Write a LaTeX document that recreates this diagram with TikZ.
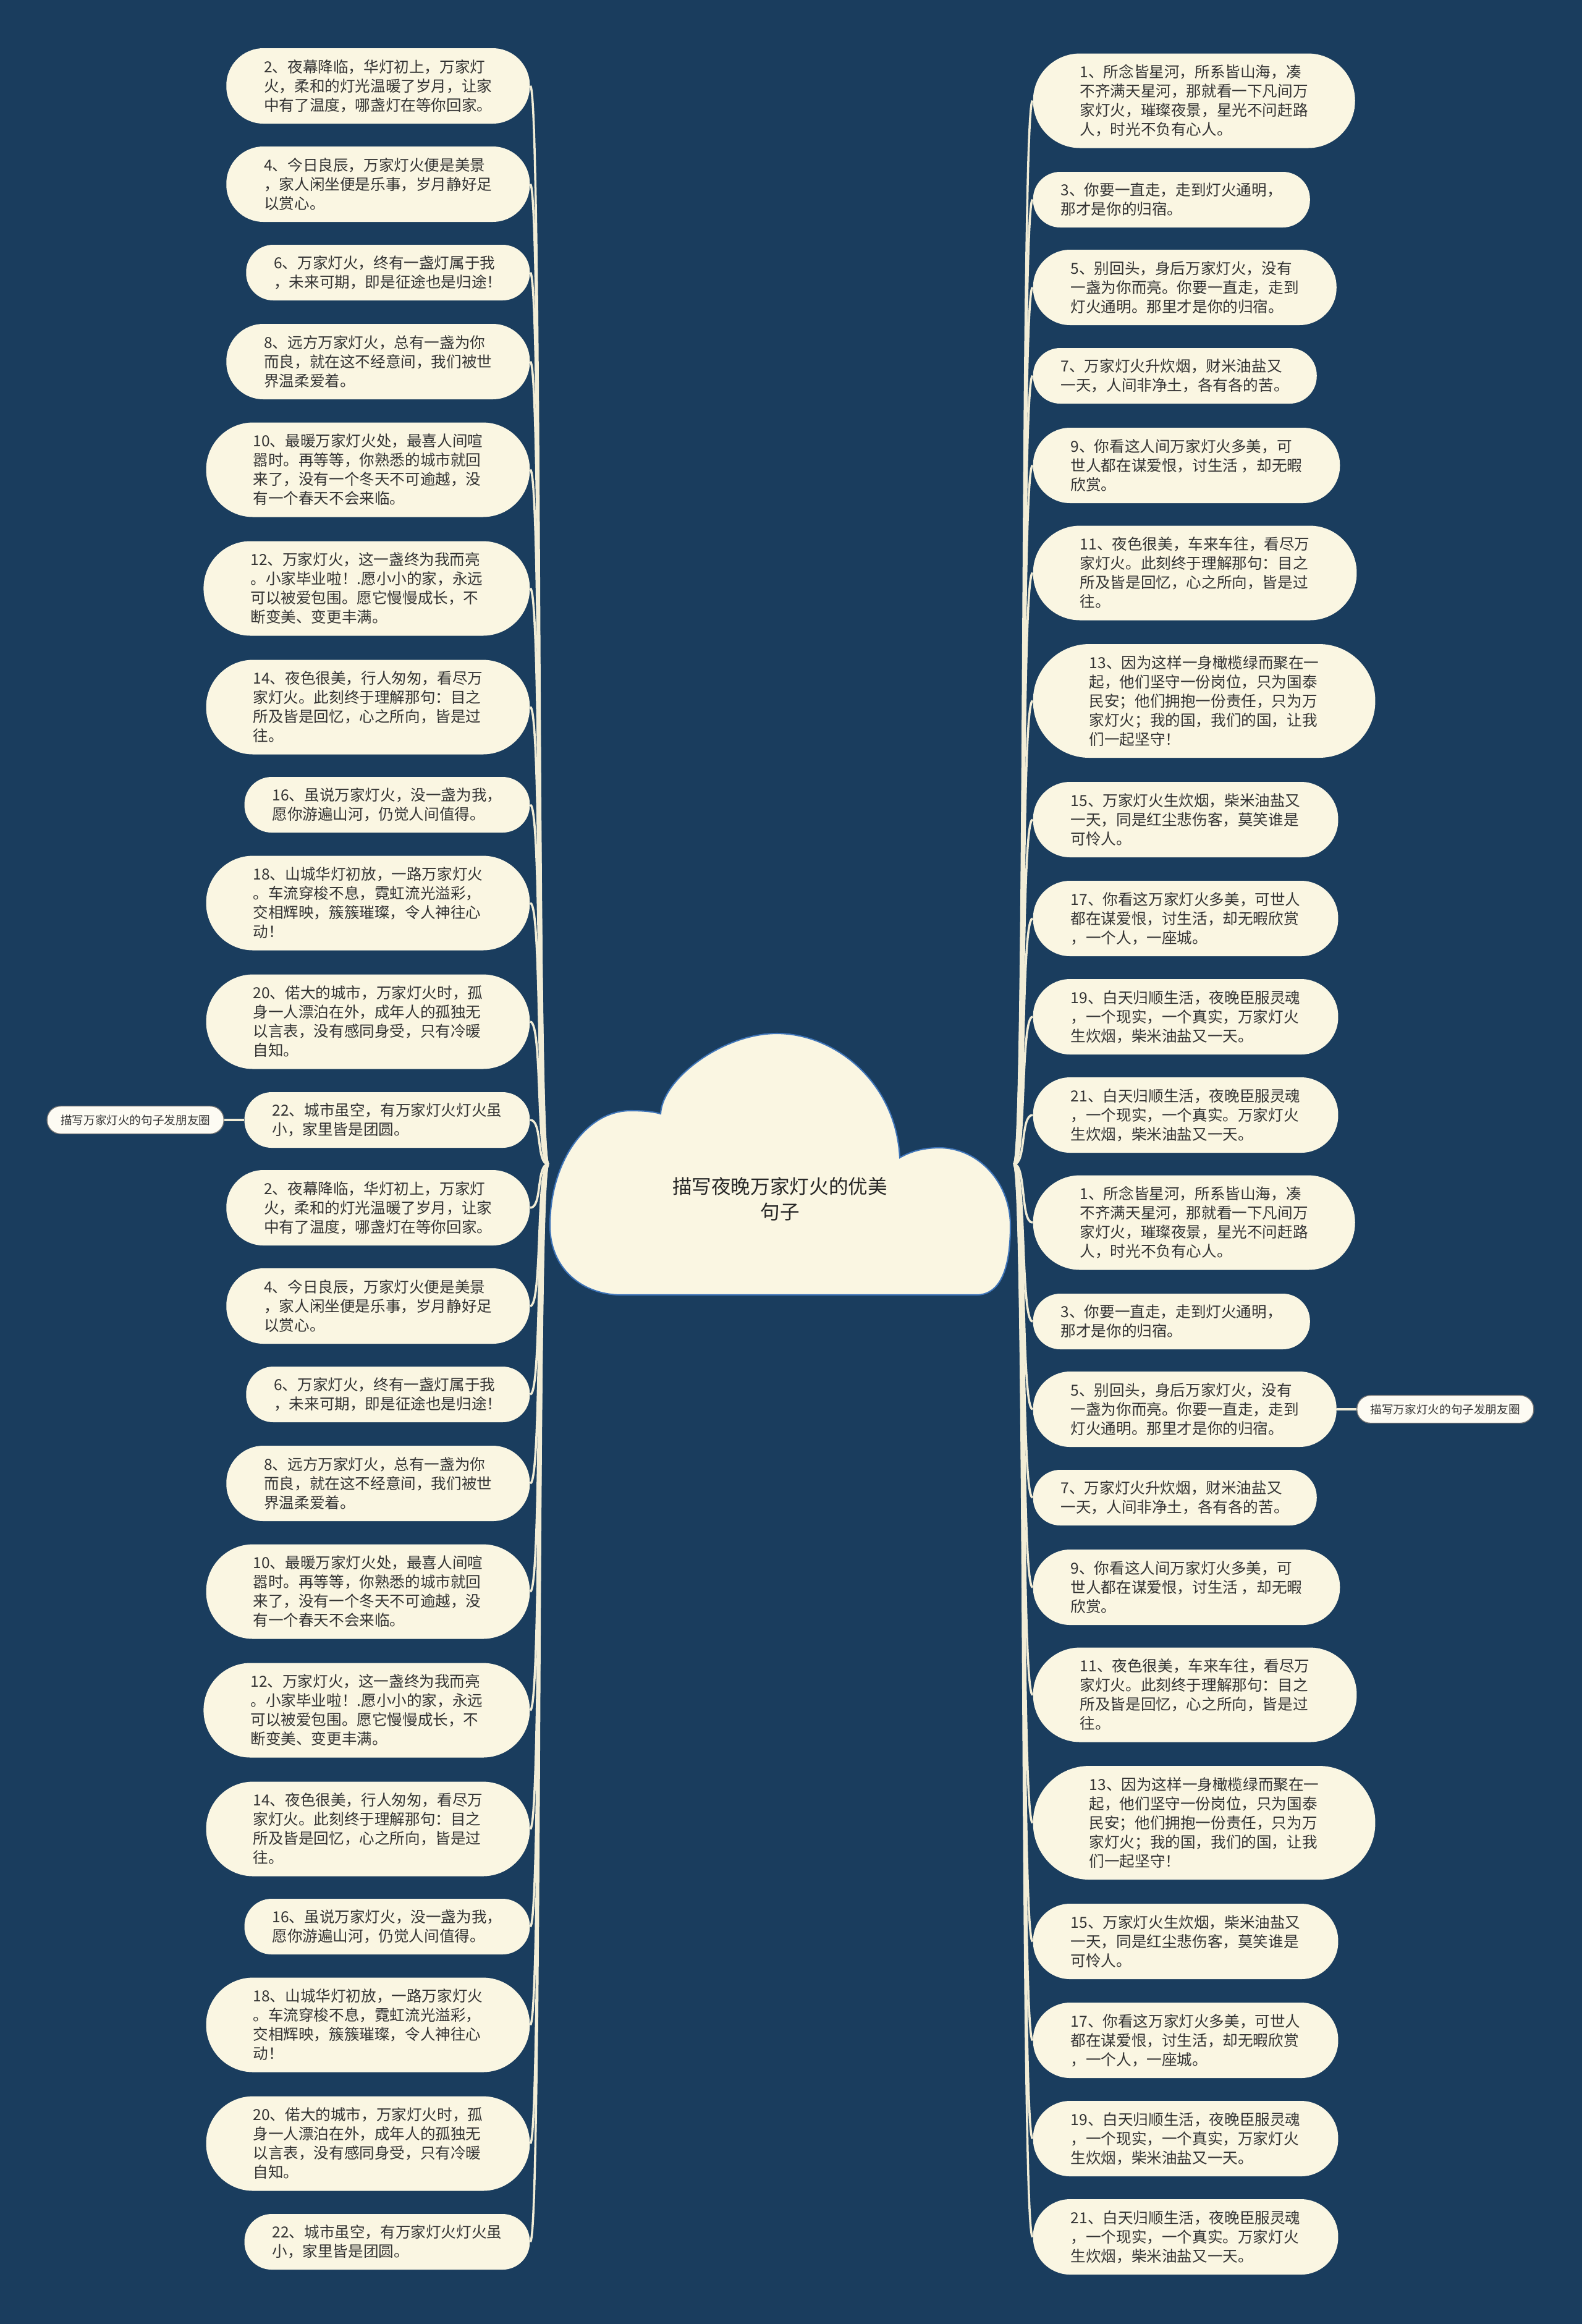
\documentclass[tikz,border=0pt]{standalone}
\usepackage{fontspec}
\setmainfont{Noto Sans CJK SC}
\usetikzlibrary{positioning}

\definecolor{nightblue}{HTML}{1A3D5E}
\definecolor{paper}{HTML}{FAF6E2}
\definecolor{linkcream}{HTML}{F2EDD6}
\definecolor{cloudedge}{HTML}{3E74B8}
\definecolor{inkgray}{HTML}{333333}

\begin{document}
\begin{tikzpicture}[
    leaf/.style={rectangle, fill=paper, text=inkgray, align=left, inner ysep=0pt,
        font=\fontsize{7pt}{8.82pt}\selectfont},
    twoline/.style={leaf, minimum height=0.90cm, rounded corners=0.44cm, inner xsep=0.45cm},
    threeline/.style={leaf, minimum height=1.22cm, rounded corners=0.60cm, inner xsep=0.61cm},
    fourline/.style={leaf, minimum height=1.53cm, rounded corners=0.76cm, inner xsep=0.76cm},
    fiveline/.style={leaf, minimum height=1.84cm, rounded corners=0.91cm, inner xsep=0.91cm},
    tag/.style={rectangle, fill=white!60!paper, draw=black!55, line width=0.4pt, text=inkgray,
        minimum height=0.45cm, rounded corners=0.22cm, inner xsep=0.22cm, inner ysep=0pt,
        font=\fontsize{5.3pt}{6pt}\selectfont},
    hub/.style={rectangle, minimum width=7.52cm, minimum height=4.23cm, inner sep=0pt},
    link/.style={draw=linkcream, line width=1pt}]

    % background
    \fill[nightblue] (0,0) rectangle (25.6,-37.6);

    % central cloud
    \fill[paper, draw=cloudedge, line width=0.6pt]
        (10.05,-20.95) -- (15.80,-20.95)
        .. controls (16.20,-20.95) and (16.35,-20.50) .. (16.35,-19.83)
        .. controls (16.35,-19.13) and (15.83,-18.57) .. (15.20,-18.57)
        .. controls (14.90,-18.57) and (14.70,-18.65) .. (14.56,-18.73)
        .. controls (14.50,-17.50) and (13.50,-16.72) .. (12.57,-16.72)
        .. controls (11.70,-16.72) and (10.72,-17.45) .. (10.69,-18.02)
        .. controls (10.55,-17.98) and (10.40,-17.97) .. (10.20,-17.97)
        .. controls (9.48,-17.97) and (8.90,-18.80) .. (8.90,-19.83)
        .. controls (8.90,-20.55) and (9.45,-20.95) .. (10.05,-20.95) -- cycle;
    \node[hub] (hub) at (12.64,-18.835) {};
    \node[align=center, text=black!85, font=\fontsize{9pt}{11.8pt}\selectfont] (title) at (12.62,-19.40)
        {描写夜晚万家灯火的优美\\句子};

    % left branch, first set
    \node[threeline, anchor=east] (l2a) at (8.58,-1.39) {2、夜幕降临，华灯初上，万家灯\\火，柔和的灯光温暖了岁月，让家\\中有了温度，哪盏灯在等你回家。};
    \node[threeline, anchor=east] (l4a) at (8.58,-2.98) {4、今日良辰，万家灯火便是美景\\，家人闲坐便是乐事，岁月静好足\\以赏心。};
    \node[twoline, anchor=east] (l6a) at (8.58,-4.41) {6、万家灯火，终有一盏灯属于我\\，未来可期，即是征途也是归途！};
    \node[threeline, anchor=east] (l8a) at (8.58,-5.85) {8、远方万家灯火，总有一盏为你\\而良，就在这不经意间，我们被世\\界温柔爱着。};
    \node[fourline, anchor=east] (l10a) at (8.58,-7.60) {10、最暖万家灯火处，最喜人间喧\\嚣时。再等等，你熟悉的城市就回\\来了，没有一个冬天不可逾越，没\\有一个春天不会来临。};
    \node[fourline, anchor=east] (l12a) at (8.58,-9.52) {12、万家灯火，这一盏终为我而亮\\。小家毕业啦！.愿小小的家，永远\\可以被爱包围。愿它慢慢成长，不\\断变美、变更丰满。};
    \node[fourline, anchor=east] (l14a) at (8.58,-11.44) {14、夜色很美，行人匆匆，看尽万\\家灯火。此刻终于理解那句：目之\\所及皆是回忆，心之所向，皆是过\\往。};
    \node[twoline, anchor=east] (l16a) at (8.58,-13.02) {16、虽说万家灯火，没一盏为我，\\愿你游遍山河，仍觉人间值得。};
    \node[fourline, anchor=east] (l18a) at (8.58,-14.61) {18、山城华灯初放，一路万家灯火\\。车流穿梭不息，霓虹流光溢彩，\\交相辉映，簇簇璀璨，令人神往心\\动！};
    \node[fourline, anchor=east] (l20a) at (8.58,-16.53) {20、偌大的城市，万家灯火时，孤\\身一人漂泊在外，成年人的孤独无\\以言表，没有感同身受，只有冷暖\\自知。};
    \node[twoline, anchor=east] (l22a) at (8.58,-18.12) {22、城市虽空，有万家灯火灯火虽\\小，家里皆是团圆。};

    % left branch, second set
    \node[threeline, anchor=east] (l2b) at (8.58,-19.54) {2、夜幕降临，华灯初上，万家灯\\火，柔和的灯光温暖了岁月，让家\\中有了温度，哪盏灯在等你回家。};
    \node[threeline, anchor=east] (l4b) at (8.58,-21.13) {4、今日良辰，万家灯火便是美景\\，家人闲坐便是乐事，岁月静好足\\以赏心。};
    \node[twoline, anchor=east] (l6b) at (8.58,-22.56) {6、万家灯火，终有一盏灯属于我\\，未来可期，即是征途也是归途！};
    \node[threeline, anchor=east] (l8b) at (8.58,-24.00) {8、远方万家灯火，总有一盏为你\\而良，就在这不经意间，我们被世\\界温柔爱着。};
    \node[fourline, anchor=east] (l10b) at (8.58,-25.75) {10、最暖万家灯火处，最喜人间喧\\嚣时。再等等，你熟悉的城市就回\\来了，没有一个冬天不可逾越，没\\有一个春天不会来临。};
    \node[fourline, anchor=east] (l12b) at (8.58,-27.67) {12、万家灯火，这一盏终为我而亮\\。小家毕业啦！.愿小小的家，永远\\可以被爱包围。愿它慢慢成长，不\\断变美、变更丰满。};
    \node[fourline, anchor=east] (l14b) at (8.58,-29.59) {14、夜色很美，行人匆匆，看尽万\\家灯火。此刻终于理解那句：目之\\所及皆是回忆，心之所向，皆是过\\往。};
    \node[twoline, anchor=east] (l16b) at (8.58,-31.17) {16、虽说万家灯火，没一盏为我，\\愿你游遍山河，仍觉人间值得。};
    \node[fourline, anchor=east] (l18b) at (8.58,-32.76) {18、山城华灯初放，一路万家灯火\\。车流穿梭不息，霓虹流光溢彩，\\交相辉映，簇簇璀璨，令人神往心\\动！};
    \node[fourline, anchor=east] (l20b) at (8.58,-34.68) {20、偌大的城市，万家灯火时，孤\\身一人漂泊在外，成年人的孤独无\\以言表，没有感同身受，只有冷暖\\自知。};
    \node[twoline, anchor=east] (l22b) at (8.58,-36.27) {22、城市虽空，有万家灯火灯火虽\\小，家里皆是团圆。};

    % right branch, first set
    \node[fourline, anchor=west] (r1a) at (16.71,-1.63) {1、所念皆星河，所系皆山海，凑\\不齐满天星河，那就看一下凡间万\\家灯火，璀璨夜景，星光不问赶路\\人，时光不负有心人。};
    \node[twoline, anchor=west] (r3a) at (16.71,-3.23) {3、你要一直走，走到灯火通明，\\那才是你的归宿。};
    \node[threeline, anchor=west] (r5a) at (16.71,-4.65) {5、别回头，身后万家灯火，没有\\一盏为你而亮。你要一直走，走到\\灯火通明。那里才是你的归宿。};
    \node[twoline, anchor=west] (r7a) at (16.71,-6.08) {7、万家灯火升炊烟，财米油盐又\\一天，人间非净土，各有各的苦。};
    \node[threeline, anchor=west] (r9a) at (16.71,-7.53) {9、你看这人间万家灯火多美，可\\世人都在谋爱恨，讨生活 ，却无暇\\欣赏。};
    \node[fourline, anchor=west] (r11a) at (16.71,-9.27) {11、夜色很美，车来车往，看尽万\\家灯火。此刻终于理解那句：目之\\所及皆是回忆，心之所向，皆是过\\往。};
    \node[fiveline, anchor=west] (r13a) at (16.71,-11.34) {13、因为这样一身橄榄绿而聚在一\\起，他们坚守一份岗位，只为国泰\\民安；他们拥抱一份责任，只为万\\家灯火；我的国，我们的国，让我\\们一起坚守！};
    \node[threeline, anchor=west] (r15a) at (16.71,-13.26) {15、万家灯火生炊烟，柴米油盐又\\一天，同是红尘悲伤客，莫笑谁是\\可怜人。};
    \node[threeline, anchor=west] (r17a) at (16.71,-14.86) {17、你看这万家灯火多美，可世人\\都在谋爱恨，讨生活，却无暇欣赏\\，一个人，一座城。};
    \node[threeline, anchor=west] (r19a) at (16.71,-16.45) {19、白天归顺生活，夜晚臣服灵魂\\，一个现实，一个真实，万家灯火\\生炊烟，柴米油盐又一天。};
    \node[threeline, anchor=west] (r21a) at (16.71,-18.04) {21、白天归顺生活，夜晚臣服灵魂\\，一个现实，一个真实。万家灯火\\生炊烟，柴米油盐又一天。};

    % right branch, second set
    \node[fourline, anchor=west] (r1b) at (16.71,-19.78) {1、所念皆星河，所系皆山海，凑\\不齐满天星河，那就看一下凡间万\\家灯火，璀璨夜景，星光不问赶路\\人，时光不负有心人。};
    \node[twoline, anchor=west] (r3b) at (16.71,-21.38) {3、你要一直走，走到灯火通明，\\那才是你的归宿。};
    \node[threeline, anchor=west] (r5b) at (16.71,-22.80) {5、别回头，身后万家灯火，没有\\一盏为你而亮。你要一直走，走到\\灯火通明。那里才是你的归宿。};
    \node[twoline, anchor=west] (r7b) at (16.71,-24.23) {7、万家灯火升炊烟，财米油盐又\\一天，人间非净土，各有各的苦。};
    \node[threeline, anchor=west] (r9b) at (16.71,-25.68) {9、你看这人间万家灯火多美，可\\世人都在谋爱恨，讨生活 ，却无暇\\欣赏。};
    \node[fourline, anchor=west] (r11b) at (16.71,-27.42) {11、夜色很美，车来车往，看尽万\\家灯火。此刻终于理解那句：目之\\所及皆是回忆，心之所向，皆是过\\往。};
    \node[fiveline, anchor=west] (r13b) at (16.71,-29.49) {13、因为这样一身橄榄绿而聚在一\\起，他们坚守一份岗位，只为国泰\\民安；他们拥抱一份责任，只为万\\家灯火；我的国，我们的国，让我\\们一起坚守！};
    \node[threeline, anchor=west] (r15b) at (16.71,-31.41) {15、万家灯火生炊烟，柴米油盐又\\一天，同是红尘悲伤客，莫笑谁是\\可怜人。};
    \node[threeline, anchor=west] (r17b) at (16.71,-33.01) {17、你看这万家灯火多美，可世人\\都在谋爱恨，讨生活，却无暇欣赏\\，一个人，一座城。};
    \node[threeline, anchor=west] (r19b) at (16.71,-34.60) {19、白天归顺生活，夜晚臣服灵魂\\，一个现实，一个真实，万家灯火\\生炊烟，柴米油盐又一天。};
    \node[threeline, anchor=west] (r21b) at (16.71,-36.19) {21、白天归顺生活，夜晚臣服灵魂\\，一个现实，一个真实。万家灯火\\生炊烟，柴米油盐又一天。};

    % side tags
    \node[tag, anchor=east] (tagl) at (3.63,-18.12) {描写万家灯火的句子发朋友圈};
    \node[tag, anchor=west] (tagr) at (21.95,-22.80) {描写万家灯火的句子发朋友圈};

    % connectors, left
    \draw[link] (hub.west) .. controls +(-0.2,0) and +(0.2,0) .. (l2a.east);
    \draw[link] (hub.west) .. controls +(-0.2,0) and +(0.2,0) .. (l4a.east);
    \draw[link] (hub.west) .. controls +(-0.2,0) and +(0.2,0) .. (l6a.east);
    \draw[link] (hub.west) .. controls +(-0.2,0) and +(0.2,0) .. (l8a.east);
    \draw[link] (hub.west) .. controls +(-0.2,0) and +(0.2,0) .. (l10a.east);
    \draw[link] (hub.west) .. controls +(-0.2,0) and +(0.2,0) .. (l12a.east);
    \draw[link] (hub.west) .. controls +(-0.2,0) and +(0.2,0) .. (l14a.east);
    \draw[link] (hub.west) .. controls +(-0.2,0) and +(0.2,0) .. (l16a.east);
    \draw[link] (hub.west) .. controls +(-0.2,0) and +(0.2,0) .. (l18a.east);
    \draw[link] (hub.west) .. controls +(-0.2,0) and +(0.2,0) .. (l20a.east);
    \draw[link] (hub.west) .. controls +(-0.2,0) and +(0.2,0) .. (l22a.east);
    \draw[link] (hub.west) .. controls +(-0.2,0) and +(0.2,0) .. (l2b.east);
    \draw[link] (hub.west) .. controls +(-0.2,0) and +(0.2,0) .. (l4b.east);
    \draw[link] (hub.west) .. controls +(-0.2,0) and +(0.2,0) .. (l6b.east);
    \draw[link] (hub.west) .. controls +(-0.2,0) and +(0.2,0) .. (l8b.east);
    \draw[link] (hub.west) .. controls +(-0.2,0) and +(0.2,0) .. (l10b.east);
    \draw[link] (hub.west) .. controls +(-0.2,0) and +(0.2,0) .. (l12b.east);
    \draw[link] (hub.west) .. controls +(-0.2,0) and +(0.2,0) .. (l14b.east);
    \draw[link] (hub.west) .. controls +(-0.2,0) and +(0.2,0) .. (l16b.east);
    \draw[link] (hub.west) .. controls +(-0.2,0) and +(0.2,0) .. (l18b.east);
    \draw[link] (hub.west) .. controls +(-0.2,0) and +(0.2,0) .. (l20b.east);
    \draw[link] (hub.west) .. controls +(-0.2,0) and +(0.2,0) .. (l22b.east);

    % connectors, right
    \draw[link] (hub.east) .. controls +(0.2,0) and +(-0.2,0) .. (r1a.west);
    \draw[link] (hub.east) .. controls +(0.2,0) and +(-0.2,0) .. (r3a.west);
    \draw[link] (hub.east) .. controls +(0.2,0) and +(-0.2,0) .. (r5a.west);
    \draw[link] (hub.east) .. controls +(0.2,0) and +(-0.2,0) .. (r7a.west);
    \draw[link] (hub.east) .. controls +(0.2,0) and +(-0.2,0) .. (r9a.west);
    \draw[link] (hub.east) .. controls +(0.2,0) and +(-0.2,0) .. (r11a.west);
    \draw[link] (hub.east) .. controls +(0.2,0) and +(-0.2,0) .. (r13a.west);
    \draw[link] (hub.east) .. controls +(0.2,0) and +(-0.2,0) .. (r15a.west);
    \draw[link] (hub.east) .. controls +(0.2,0) and +(-0.2,0) .. (r17a.west);
    \draw[link] (hub.east) .. controls +(0.2,0) and +(-0.2,0) .. (r19a.west);
    \draw[link] (hub.east) .. controls +(0.2,0) and +(-0.2,0) .. (r21a.west);
    \draw[link] (hub.east) .. controls +(0.2,0) and +(-0.2,0) .. (r1b.west);
    \draw[link] (hub.east) .. controls +(0.2,0) and +(-0.2,0) .. (r3b.west);
    \draw[link] (hub.east) .. controls +(0.2,0) and +(-0.2,0) .. (r5b.west);
    \draw[link] (hub.east) .. controls +(0.2,0) and +(-0.2,0) .. (r7b.west);
    \draw[link] (hub.east) .. controls +(0.2,0) and +(-0.2,0) .. (r9b.west);
    \draw[link] (hub.east) .. controls +(0.2,0) and +(-0.2,0) .. (r11b.west);
    \draw[link] (hub.east) .. controls +(0.2,0) and +(-0.2,0) .. (r13b.west);
    \draw[link] (hub.east) .. controls +(0.2,0) and +(-0.2,0) .. (r15b.west);
    \draw[link] (hub.east) .. controls +(0.2,0) and +(-0.2,0) .. (r17b.west);
    \draw[link] (hub.east) .. controls +(0.2,0) and +(-0.2,0) .. (r19b.west);
    \draw[link] (hub.east) .. controls +(0.2,0) and +(-0.2,0) .. (r21b.west);

    % tag links
    \draw[link] (tagl.east) -- (l22a.west);
    \draw[link] (r5b.east) -- (tagr.west);
\end{tikzpicture}
\end{document}
